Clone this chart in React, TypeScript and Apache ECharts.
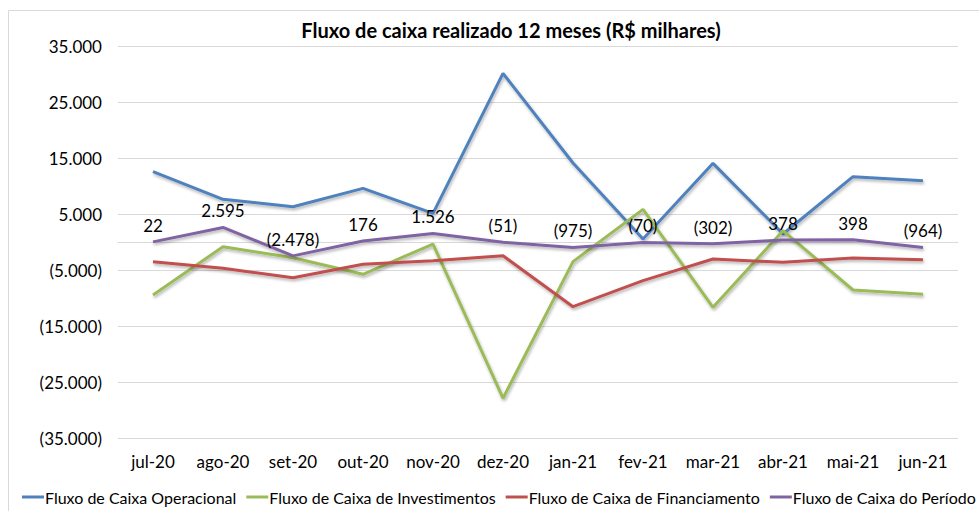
import React, { useEffect, useRef } from "react";
import * as echarts from "echarts";

const categories = ["jul-20", "ago-20", "set-20", "out-20", "nov-20", "dez-20", "jan-21", "fev-21", "mar-21", "abr-21", "mai-21", "jun-21"];
const operacional = [12550, 7630, 6300, 9580, 5120, 30100, 14100, 540, 14050, 1430, 11660, 10950];
const investimentos = [-9470, -840, -2800, -5770, -360, -27900, -3510, 5830, -11660, 2020, -8570, -9350];
const financiamento = [-3510, -4700, -6370, -3990, -3330, -2440, -11550, -6900, -3040, -3630, -2860, -3150];
const periodo = [22, 2595, -2478, 176, 1526, -51, -975, -70, -302, 378, 398, -964];
const seriesNames = ["Fluxo de Caixa Operacional", "Fluxo de Caixa de Investimentos", "Fluxo de Caixa de Financiamento", "Fluxo de Caixa do Período"];
const colors = ["#4F81BD", "#9BBB59", "#C0504D", "#8064A2"];

const FONT = "Lato, 'Noto Sans', sans-serif";

function fmt(v: number): string {
  const a = Math.round(Math.abs(v));
  const s = a.toString().replace(/\B(?=(\d{3})+(?!\d))/g, ".");
  return v < 0 ? "(" + s + ")" : s;
}

export default function App() {
  const ref = useRef<HTMLDivElement>(null);
  useEffect(() => {
    if (!ref.current) return;
    const chart = echarts.init(ref.current, null, { renderer: "svg" });
    const datasets = [operacional, investimentos, financiamento, periodo];
    chart.setOption({
      animation: false,
      backgroundColor: "#ffffff",
      title: {
        text: "Fluxo de caixa realizado 12 meses (R$ milhares)",
        left: 506,
        textAlign: "center",
        top: 15,
        textStyle: { fontFamily: FONT, fontWeight: "bold", fontSize: 20, color: "#000" },
      },
      graphic: [
        {
          type: "rect",
          shape: { x: 8.5, y: 10.5, width: 1200, height: 1200 },
          style: { fill: "none", stroke: "#d9d9d9", lineWidth: 1 },
          silent: true,
          z: -1,
        },
      ],
      legend: {
        bottom: 1,
        left: 17,
        width: 1100,
        itemGap: 10,
        itemWidth: 22,
        itemHeight: 3,
        icon: "rect",
        data: seriesNames,
        textStyle: { fontFamily: FONT, fontSize: 16, color: "#000", padding: [0, 0, 0, -4] },
      },
      grid: { left: 118, right: 21, top: 46, bottom: 73, containLabel: false },
      xAxis: [
        {
          type: "category",
          data: categories,
          boundaryGap: true,
          axisLine: { show: true, onZero: true, lineStyle: { color: "#d9d9d9", width: 1 } },
          axisTick: { show: false },
          axisLabel: { show: false },
          splitLine: { show: false },
        },
        {
          type: "category",
          data: categories,
          position: "bottom",
          boundaryGap: true,
          axisLine: { show: false, onZero: false },
          axisTick: { show: false },
          axisLabel: { fontFamily: FONT, fontSize: 17, color: "#000", margin: 15, interval: 0 },
        },
      ],
      yAxis: {
        type: "value",
        min: -35000,
        max: 35000,
        interval: 10000,
        axisLine: { show: false },
        axisTick: { show: false },
        splitLine: { lineStyle: { color: "#d9d9d9", width: 1 } },
        axisLabel: { fontFamily: FONT, fontSize: 17, color: "#000", margin: 16, formatter: (v: number) => fmt(v) },
      },
      series: datasets.map((d, i) => ({
        name: seriesNames[i],
        type: "line",
        data: d,
        xAxisIndex: 0,
        symbol: "circle",
        symbolSize: 0,
        showSymbol: true,
        color: colors[i],
        itemStyle: { color: colors[i] },
        lineStyle: {
          color: colors[i],
          width: 3,
          shadowColor: "rgba(0,0,0,0.3)",
          shadowBlur: 3,
          shadowOffsetX: 1,
          shadowOffsetY: 2,
        },
        z: 2 + i,
        label:
          i === 3
            ? {
                show: true,
                position: "top",
                distance: 8,
                fontFamily: FONT,
                fontSize: 17,
                color: "#000",
                formatter: (p: any) => fmt(p.value),
              }
            : { show: false },
      })),
    });
    return () => chart.dispose();
  }, []);
  return <div ref={ref} style={{ position: "absolute", left: 0, top: 0, width: 979, height: 511 }} />;
}
